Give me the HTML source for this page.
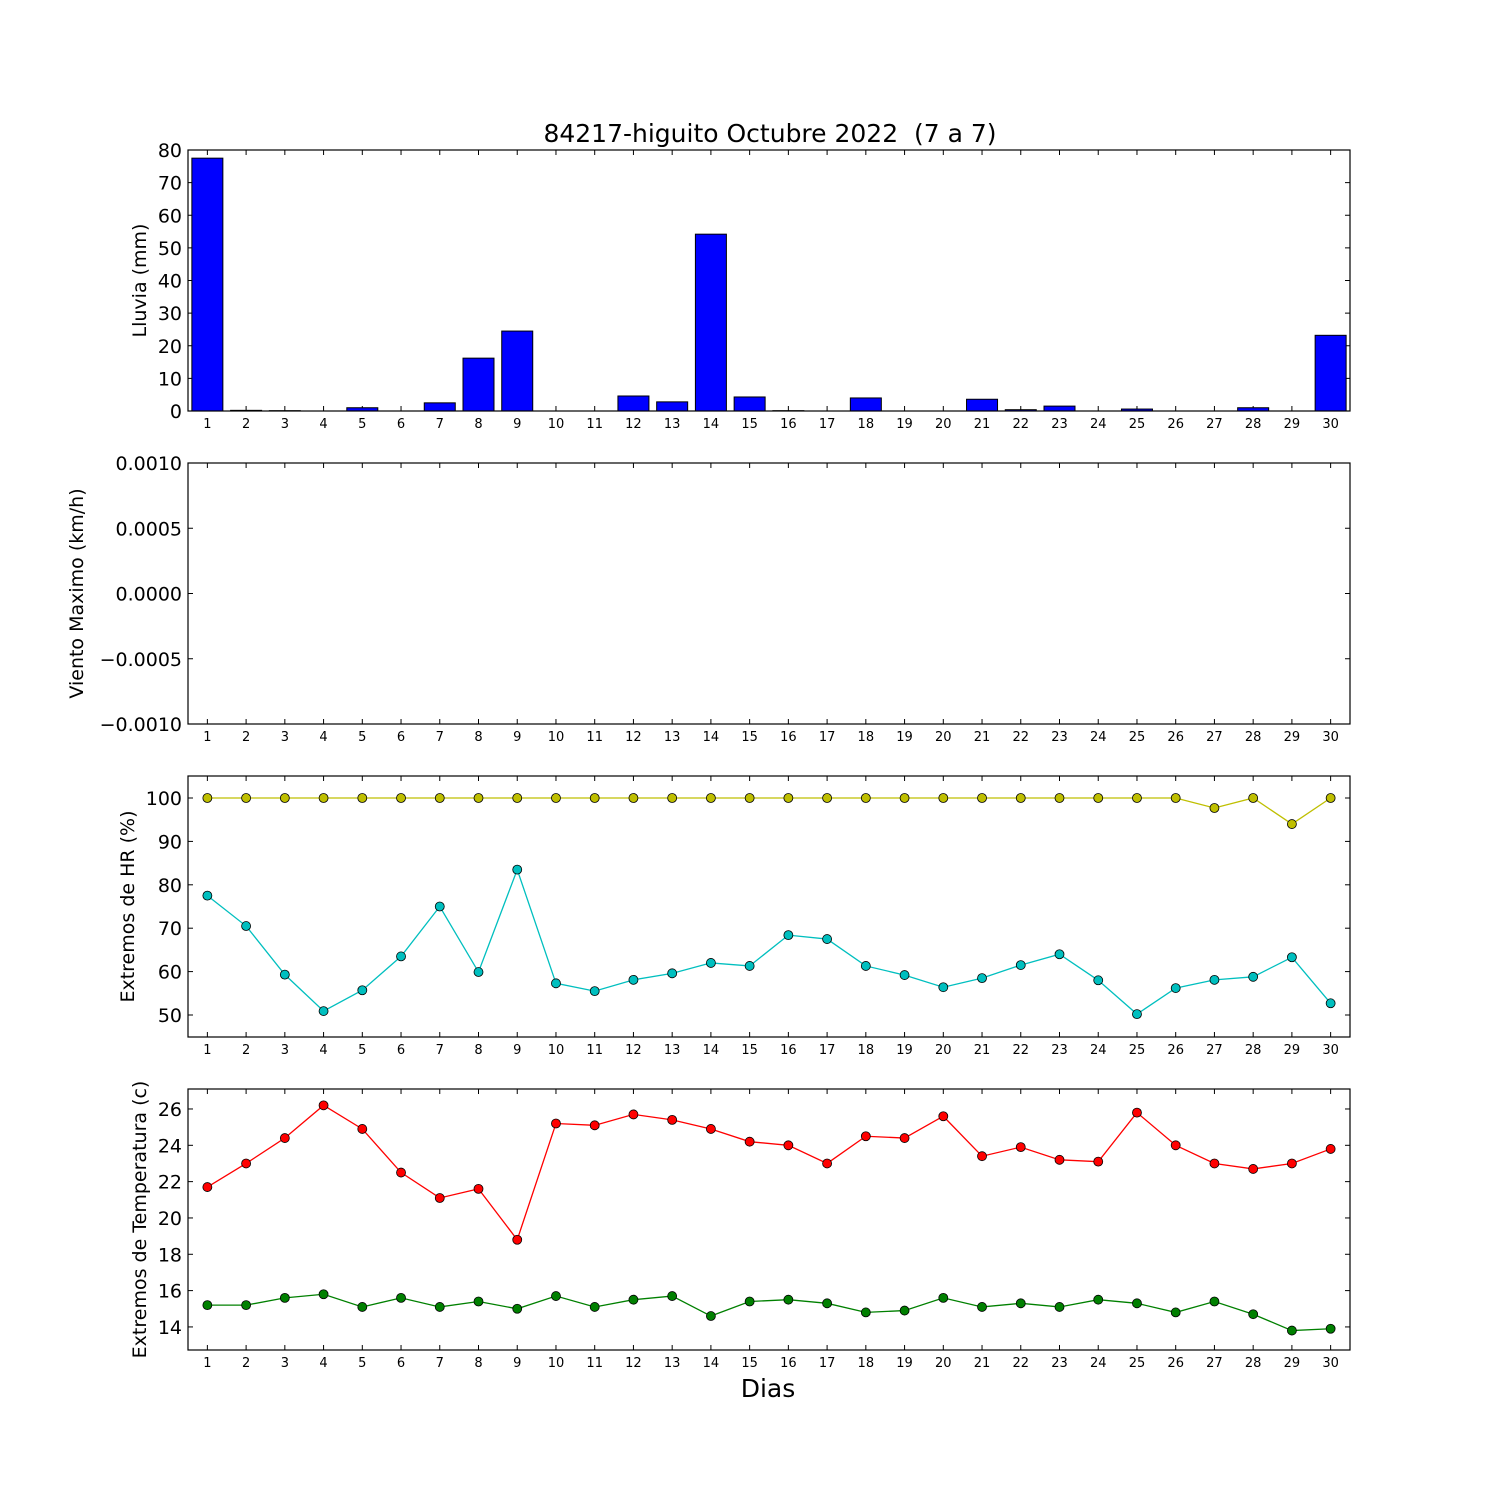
<!DOCTYPE html>
<html><head><meta charset="utf-8"><style>
body{margin:0;background:#fff;}
svg{display:block;font-family:"DejaVu Sans","Liberation Sans",sans-serif;}
</style></head><body>
<svg id="c" width="1500" height="1500" xmlns="http://www.w3.org/2000/svg">
<rect width="1500" height="1500" fill="#fff"/>
<text x="770" y="142" font-size="25" text-anchor="middle" style="white-space:pre">84217-higuito Octubre 2022  (7 a 7)</text>
<text x="768" y="1397" font-size="25" text-anchor="middle">Dias</text>
</svg>
<script>
const days = Array.from({length:30},(_,i)=>i+1);
const rain = [77.5,0.2,0.1,0,1,0,2.5,16.2,24.5,0,0,4.6,2.8,54.2,4.3,0.1,0,4,0,0,3.6,0.4,1.5,0,0.6,0,0,1,0,23.2];
const hrMax = [100,100,100,100,100,100,100,100,100,100,100,100,100,100,100,100,100,100,100,100,100,100,100,100,100,100,97.7,100,94,100];
const hrMin = [77.5,70.5,59.3,50.9,55.7,63.5,75,59.9,83.5,57.3,55.5,58.1,59.6,62,61.3,68.4,67.5,61.3,59.2,56.4,58.5,61.5,64,58,50.2,56.2,58.1,58.8,63.3,52.7];
const tMax = [21.7,23,24.4,26.2,24.9,22.5,21.1,21.6,18.8,25.2,25.1,25.7,25.4,24.9,24.2,24,23,24.5,24.4,25.6,23.4,23.9,23.2,23.1,25.8,24,23,22.7,23,23.8];
const tMin = [15.2,15.2,15.6,15.8,15.1,15.6,15.1,15.4,15,15.7,15.1,15.5,15.7,14.6,15.4,15.5,15.3,14.8,14.9,15.6,15.1,15.3,15.1,15.5,15.3,14.8,15.4,14.7,13.8,13.9];
const rainTicks=[0,10,20,30,40,50,60,70,80];
const windTicks=[-0.001,-0.0005,0,0.0005,0.001];
const windLabels=["\u22120.0010","\u22120.0005","0.0000","0.0005","0.0010"];
const hrTicks=[50,60,70,80,90,100];
const tTicks=[14,16,18,20,22,24,26];

const svg=document.getElementById('c');
const NS="http://www.w3.org/2000/svg";
const L=188,R=1350;
const X=d=>L+(d-0.5)*(R-L)/30;
function el(tag,attrs,parent){const e=document.createElementNS(NS,tag);for(const k in attrs)e.setAttribute(k,attrs[k]);(parent||svg).appendChild(e);return e;}

function panel(name,top,bot,ymin,ymax,ticks,labels,ytitle,titleX){
  const g=el('g',{});
  
  
  const Y=v=>bot-(v-ymin)/(ymax-ymin)*(bot-top);
  ticks.forEach((t,i)=>{
    const y=Y(t);
    el('line',{x1:L,x2:L+5,y1:y,y2:y,stroke:'#000'},g);
    el('line',{x1:R,x2:R-5,y1:y,y2:y,stroke:'#000'},g);
    const tx=el('text',{x:L-6,y:y+7,'font-size':19,'text-anchor':'end'},g);
    tx.textContent=labels?labels[i]:t;
    
    
  });
  days.forEach(d=>{
    const x=X(d);
    el('line',{x1:x,x2:x,y1:bot,y2:bot-5,stroke:'#000'},g);
    el('line',{x1:x,x2:x,y1:top,y2:top+5,stroke:'#000'},g);
    const tx=el('text',{x:x,y:bot+17,'font-size':13,'text-anchor':'middle'},g);
    tx.textContent=d;
    
    
  });
  const yt=el('text',{x:0,y:0,'font-size':19,'text-anchor':'middle',transform:`translate(${titleX},${(top+bot)/2}) rotate(-90)`},g);
  yt.textContent=ytitle;
  
  
  return {g,Y,top,bot};
}
function frame(p){el('rect',{x:L,y:p.top,width:R-L,height:p.bot-p.top,fill:'none',stroke:'#000','stroke-width':1.2},p.g);}
function series(p,vals,color,name){
  const pts=vals.map((v,i)=>X(days[i])+','+p.Y(v)).join(' ');
  const pl=el('polyline',{points:pts,fill:'none',stroke:color,'stroke-width':1.3},p.g);
  
  
  vals.forEach((v,i)=>{
    const c=el('circle',{cx:X(days[i]),cy:p.Y(v),r:4.5,fill:color,stroke:'#000','stroke-width':0.8},p.g);
    
    
  });
}

const p1=panel('rain',150,411,0,80,rainTicks,null,'Lluvia (mm)',146);
rain.forEach((v,i)=>{
  const x=X(days[i]);
  const b=el('rect',{x:x-15.5,y:p1.Y(v),width:31,height:p1.bot-p1.Y(v),fill:'#0000ff',stroke:'#000','stroke-width':1},p1.g);
  
  
});
frame(p1);
const p2=panel('wind',463,724,-0.001,0.001,windTicks,windLabels,'Viento Maximo (km/h)',83);
frame(p2);
const p3=panel('humidity',776,1037,44.93,105.07,hrTicks,null,'Extremos de HR (%)',134);
series(p3,hrMax,'#bfbf00','hr-max');
series(p3,hrMin,'#00bfbf','hr-min');
frame(p3);
const p4=panel('temperature',1089,1350,12.73,27.1,tTicks,null,'Extremos de Temperatura (c)',146);
series(p4,tMax,'#ff0000','temp-max');
series(p4,tMin,'#008000','temp-min');
frame(p4);
</script>
</body></html>
